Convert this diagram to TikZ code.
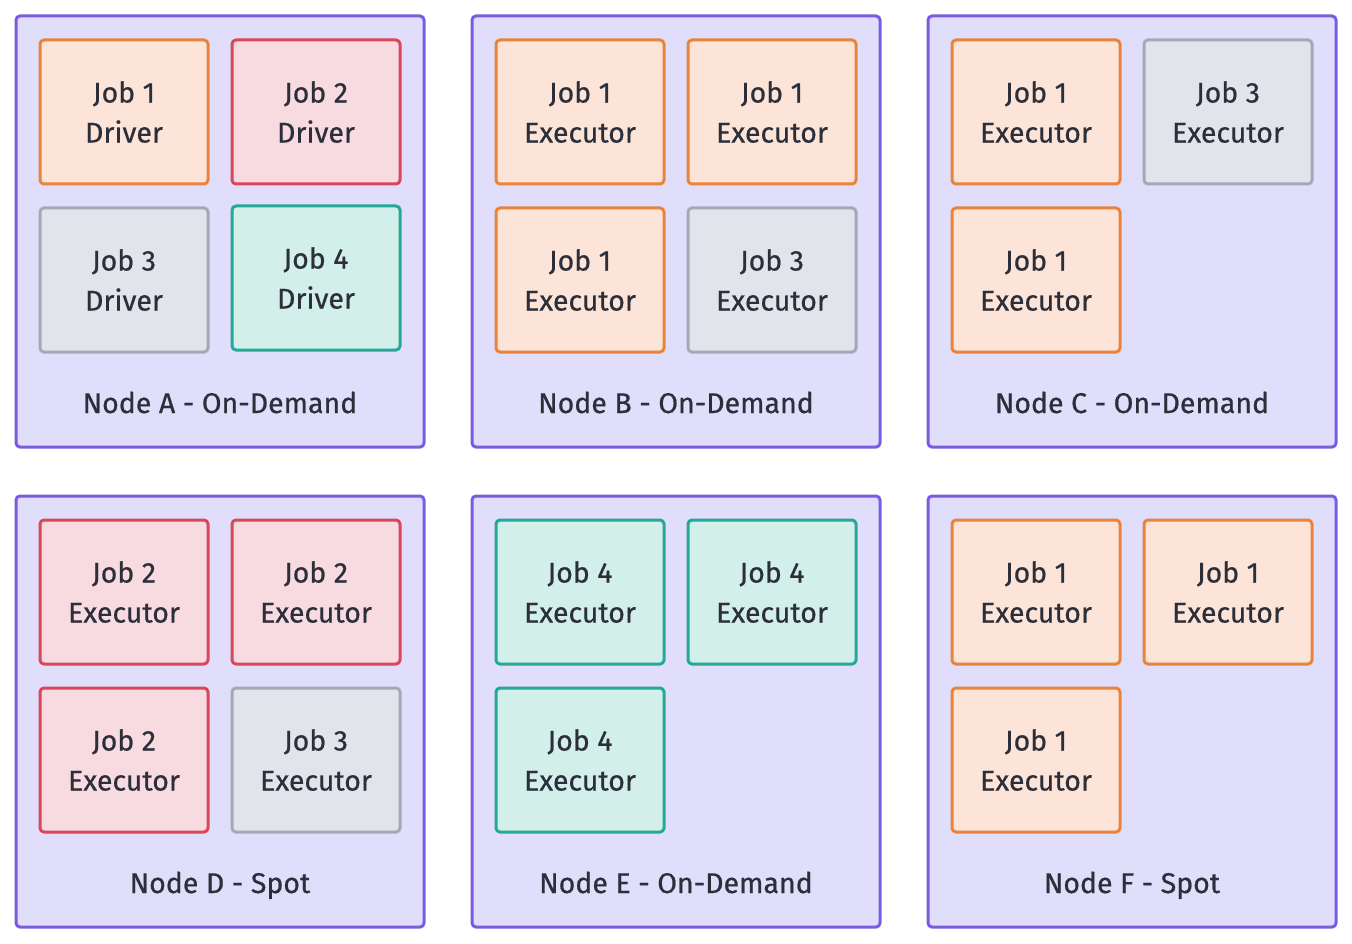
\documentclass[tikz,border=0pt]{standalone}
\usepackage{fontspec}
\setmainfont{Fira Sans}[FakeBold=0.6]
\definecolor{nodefill}{HTML}{E0DEFA}
\definecolor{nodedraw}{HTML}{7B5CE0}
\definecolor{ofill}{HTML}{FCE5D8}\definecolor{odraw}{HTML}{E8843C}
\definecolor{rfill}{HTML}{F7DBE0}\definecolor{rdraw}{HTML}{D9475A}
\definecolor{gfill}{HTML}{E1E4EA}\definecolor{gdraw}{HTML}{A5A8B5}
\definecolor{tfill}{HTML}{D2EFEA}\definecolor{tdraw}{HTML}{25A897}
\definecolor{txt}{HTML}{2C2F3A}
\begin{document}
\begin{tikzpicture}[x=1pt,y=-1pt,
  hostbox/.style={draw=nodedraw,fill=nodefill,line width=3pt,rounded corners=4pt},
  job/.style={line width=3pt,rounded corners=4pt},
  O/.style={job,draw=odraw,fill=ofill},
  R/.style={job,draw=rdraw,fill=rfill},
  G/.style={job,draw=gdraw,fill=gfill},
  T/.style={job,draw=tdraw,fill=tfill},
  lab/.style={font=\fontsize{28.5}{40}\selectfont,text=txt,align=center}]
\useasboundingbox (0,0) rectangle (1352,944);
\newcommand\jobbox[5]{\draw[#1] (#2,#3) rectangle ++(168,144);
  \node[lab] (#5) at (#2+84,#3+72) {#4};}
\newcommand\hostnode[4]{\draw[hostbox] (#1,#2) rectangle ++(408,431);
  \node[lab,anchor=base] (#4) at (#1+204,#2+397) {#3};}
\hostnode{16}{16}{Node A - On-Demand}{hA}
\hostnode{472}{16}{Node B - On-Demand}{hB}
\hostnode{928}{16}{Node C - On-Demand}{hC}
\hostnode{16}{496}{Node D - Spot}{hD}
\hostnode{472}{496}{Node E - On-Demand}{hE}
\hostnode{928}{496}{Node F - Spot}{hF}
\jobbox{O}{40}{40}{Job 1\\Driver}{a1}
\jobbox{R}{232}{40}{Job 2\\Driver}{a2}
\jobbox{G}{40}{208}{Job 3\\Driver}{a3}
\jobbox{T}{232}{206}{Job 4\\Driver}{a4}
\jobbox{O}{496}{40}{Job 1\\Executor}{b1}
\jobbox{O}{688}{40}{Job 1\\Executor}{b2}
\jobbox{O}{496}{208}{Job 1\\Executor}{b3}
\jobbox{G}{688}{208}{Job 3\\Executor}{b4}
\jobbox{O}{952}{40}{Job 1\\Executor}{c1}
\jobbox{G}{1144}{40}{Job 3\\Executor}{c2}
\jobbox{O}{952}{208}{Job 1\\Executor}{c3}
\jobbox{R}{40}{520}{Job 2\\Executor}{d1}
\jobbox{R}{232}{520}{Job 2\\Executor}{d2}
\jobbox{R}{40}{688}{Job 2\\Executor}{d3}
\jobbox{G}{232}{688}{Job 3\\Executor}{d4}
\jobbox{T}{496}{520}{Job 4\\Executor}{e1}
\jobbox{T}{688}{520}{Job 4\\Executor}{e2}
\jobbox{T}{496}{688}{Job 4\\Executor}{e3}
\jobbox{O}{952}{520}{Job 1\\Executor}{f1}
\jobbox{O}{1144}{520}{Job 1\\Executor}{f2}
\jobbox{O}{952}{688}{Job 1\\Executor}{f3}
\end{tikzpicture}
\end{document}
